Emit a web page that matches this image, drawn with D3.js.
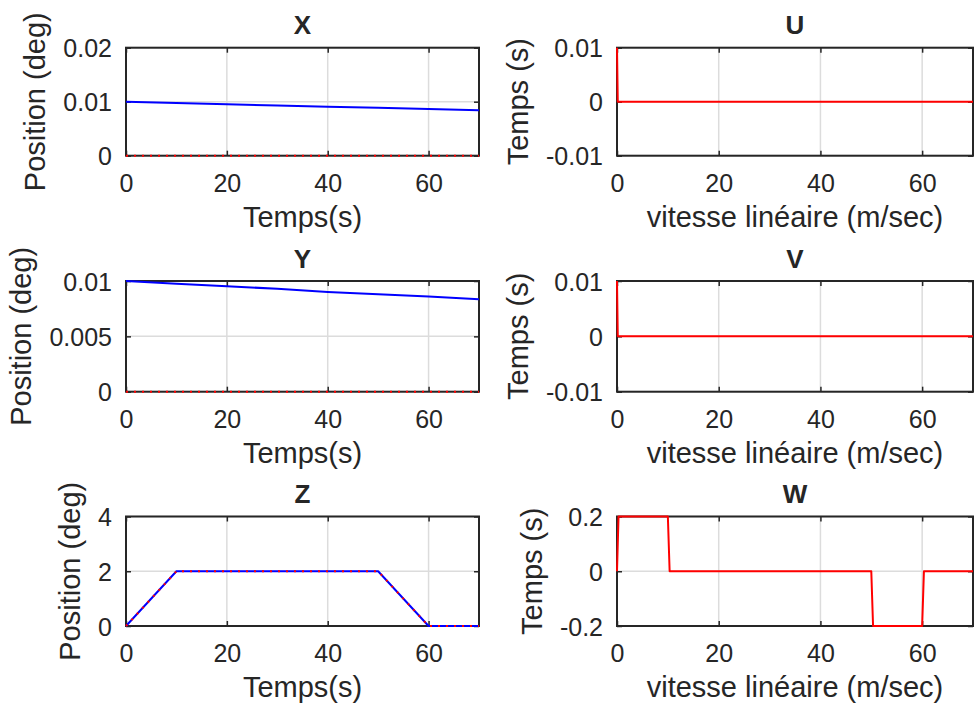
<!DOCTYPE html>
<html>
<head>
<meta charset="utf-8">
<script src="https://cdn.jsdelivr.net/npm/d3@7"></script>
<style>
  html, body { margin: 0; padding: 0; background: #ffffff; }
  svg { display: block; }
  text { font-family: "Liberation Sans", Arial, Helvetica, sans-serif; fill: #262626; }
</style>
</head>
<body>
<svg id="fig" width="976" height="707"></svg>
<script>
// Time base shared by the slowly drifting X / Y positions
const driftTime = [0, 10, 20, 30, 40, 50, 60, 70];
const xPosition = [0.01, 0.00975, 0.00952, 0.0093, 0.00907, 0.00886, 0.00865, 0.0084];
const yPosition = [0.01, 0.00976, 0.00952, 0.0093, 0.0090, 0.0088, 0.0086, 0.00835];
const flatTime = [0, 70];
const xReference = [0, 0];
const yReference = [0, 0];

// Z trapezoid: measured position and reference
const zTime = [0, 10, 50, 60, 70];
const zPosition = [0, 2, 2, 0, 0];
const zReference = [0, 2, 2, 0, 0];

// U / V: short initial spike then zero
const uvTime = [0, 0.15, 70];
const uValues = [0.01, 0, 0];
const vValues = [0.01, 0, 0];

// W: pulse up, back to zero, pulse down, back to zero
const wTime = [0, 0.3, 10, 10.35, 50, 50.35, 60, 60.35, 70];
const wValues = [0, 0.2, 0.2, 0, 0, -0.2, -0.2, 0, 0];

// Axis ticks
const timeTicks = [0, 20, 40, 60];
const xPosTicks = [0, 0.01, 0.02];
const yPosTicks = [0, 0.005, 0.01];
const zPosTicks = [0, 2, 4];
const uvTicks = [-0.01, 0, 0.01];
const wTicks = [-0.2, 0, 0.2];

const leftXLabel = "Temps(s)";
const rightXLabel = "vitesse linéaire (m/sec)";
const leftYLabel = "Position (deg)";
const rightYLabel = "Temps (s)";

const BLUE = "#0000ff", RED = "#ff0000";
const zip = (t, v) => t.map((d, i) => [d, v[i]]);

const panels = [
  { title: "X", box: [126, 47.7, 479, 155.7], yDomain: [0, 0.02], yTicks: xPosTicks,
    xLabel: leftXLabel, yLabel: leftYLabel,
    series: [ { data: zip(driftTime, xPosition), color: BLUE },
              { data: zip(flatTime, xReference), color: RED, dotted: true } ] },
  { title: "U", box: [617, 47.7, 973, 155.7], yDomain: [-0.01, 0.01], yTicks: uvTicks,
    xLabel: rightXLabel, yLabel: rightYLabel,
    series: [ { data: zip(uvTime, uValues), color: RED } ] },
  { title: "Y", box: [126, 281, 479, 391.7], yDomain: [0, 0.01], yTicks: yPosTicks,
    xLabel: leftXLabel, yLabel: leftYLabel,
    series: [ { data: zip(driftTime, yPosition), color: BLUE },
              { data: zip(flatTime, yReference), color: RED, dotted: true } ] },
  { title: "V", box: [617, 281, 973, 391.7], yDomain: [-0.01, 0.01], yTicks: uvTicks,
    xLabel: rightXLabel, yLabel: rightYLabel,
    series: [ { data: zip(uvTime, vValues), color: RED } ] },
  { title: "Z", box: [126, 516.5, 479, 626], yDomain: [0, 4], yTicks: zPosTicks,
    xLabel: leftXLabel, yLabel: leftYLabel,
    series: [ { data: zip(zTime, zPosition), color: BLUE },
              { data: zip(zTime, zReference), color: RED, dotted: true } ] },
  { title: "W", box: [617, 516.5, 973, 626], yDomain: [-0.2, 0.2], yTicks: wTicks,
    xLabel: rightXLabel, yLabel: rightYLabel,
    series: [ { data: zip(wTime, wValues), color: RED } ] }
];

const svg = d3.select("#fig");
const TICK_FONT = 25, LABEL_FONT = 29, TITLE_FONT = 26;

panels.forEach((p, idx) => {
  const [x0, y0, x1, y1] = p.box;
  const w = x1 - x0, h = y1 - y0;
  const x = d3.scaleLinear().domain([0, 70]).range([0, w]);
  const y = d3.scaleLinear().domain(p.yDomain).range([h, 0]);
  const g = svg.append("g").attr("transform", `translate(${x0},${y0})`);

  // grid
  g.append("g").selectAll("line").data(timeTicks).join("line")
    .attr("x1", d => x(d)).attr("x2", d => x(d)).attr("y1", 0).attr("y2", h)
    .attr("stroke", "#dcdcdc").attr("stroke-width", 1.5);
  g.append("g").selectAll("line").data(p.yTicks).join("line")
    .attr("x1", 0).attr("x2", w).attr("y1", d => y(d)).attr("y2", d => y(d))
    .attr("stroke", "#dcdcdc").attr("stroke-width", 1.5);

  // axes with inward ticks on all four sides
  const fmt = d => String(d);
  const bottom = g.append("g").attr("transform", `translate(0,${h})`)
    .call(d3.axisBottom(x).tickValues(timeTicks).tickSizeInner(-5).tickSizeOuter(0).tickPadding(14).tickFormat(fmt));
  const top = g.append("g")
    .call(d3.axisTop(x).tickValues(timeTicks).tickSizeInner(-5).tickSizeOuter(0).tickFormat(""));
  const left = g.append("g")
    .call(d3.axisLeft(y).tickValues(p.yTicks).tickSizeInner(-5).tickSizeOuter(0).tickPadding(14).tickFormat(fmt));
  const right = g.append("g").attr("transform", `translate(${w},0)`)
    .call(d3.axisRight(y).tickValues(p.yTicks).tickSizeInner(-5).tickSizeOuter(0).tickFormat(""));
  [bottom, top, left, right].forEach(a => {
    a.select(".domain").remove();
    a.selectAll(".tick line").attr("stroke", "#262626").attr("stroke-width", 1.5);
  });
  bottom.selectAll(".tick text")
    .attr("font-size", TICK_FONT).attr("fill", "#262626")
    .attr("dy", null).attr("y", 36);
  left.selectAll(".tick text")
    .attr("font-size", TICK_FONT).attr("fill", "#262626")
    .attr("x", -14).attr("dy", "0.36em");

  // box
  g.append("rect").attr("x", 0).attr("y", 0).attr("width", w).attr("height", h)
    .attr("fill", "none").attr("stroke", "#262626").attr("stroke-width", 2);

  // data lines, drawn above the box
  const clipId = "clip" + idx;
  g.append("clipPath").attr("id", clipId).append("rect")
    .attr("x", -1).attr("y", -2).attr("width", w + 2).attr("height", h + 4);
  const line = d3.line().x(d => x(d[0])).y(d => y(d[1]));
  const over = g.append("g").attr("clip-path", `url(#${clipId})`);
  p.series.forEach(s => {
    over.append("path").attr("d", line(s.data))
      .attr("fill", "none").attr("stroke", s.color)
      .attr("stroke-width", 2)
      .attr("stroke-linejoin", "round")
      .attr("stroke-dasharray", s.dotted ? "2,6" : null);
  });

  // title
  g.append("text").attr("x", w / 2).attr("y", -13.5)
    .attr("text-anchor", "middle").attr("font-size", TITLE_FONT).attr("font-weight", "bold")
    .attr("fill", "#000").text(p.title);

  // x label
  g.append("text").attr("x", w / 2).attr("y", h + 71)
    .attr("text-anchor", "middle").attr("font-size", LABEL_FONT).text(p.xLabel);

  // y label placed clear of the widest tick label
  let maxW = 0;
  left.selectAll(".tick text").each(function () {
    maxW = Math.max(maxW, this.getComputedTextLength());
  });
  const lx = -14 - maxW - 18;
  g.append("text")
    .attr("transform", `translate(${lx},${h / 2}) rotate(-90)`)
    .attr("text-anchor", "middle").attr("font-size", LABEL_FONT).text(p.yLabel);
});
</script>
</body>
</html>
